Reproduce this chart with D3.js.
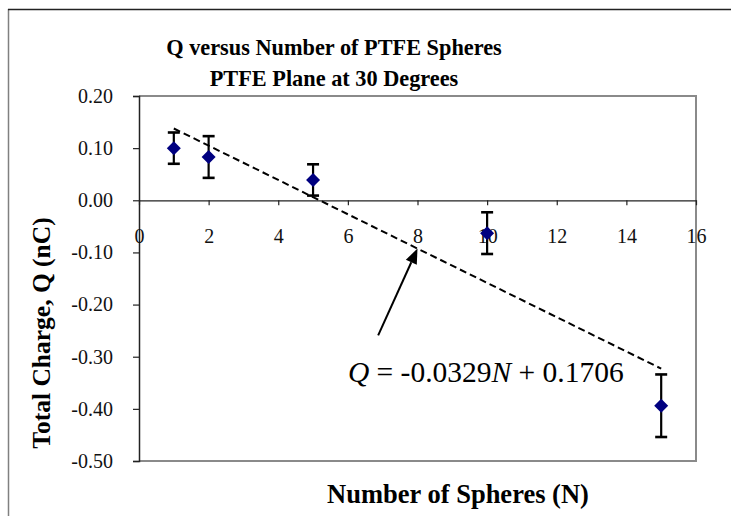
<!DOCTYPE html>
<html>
<head>
<meta charset="utf-8">
<script src="https://cdn.jsdelivr.net/npm/d3@7"></script>
<style>
  html, body { margin: 0; padding: 0; background: #fff; }
  svg { display: block; font-family: "Liberation Serif", "DejaVu Serif", serif; }
</style>
</head>
<body>
<svg id="chart" width="731" height="516"></svg>
<script>

// Data
const sphereCounts = [1, 2, 5, 10, 15];
const chargeValues = [0.100, 0.083, 0.039, -0.063, -0.394];
const chargeErrors = [0.030, 0.040, 0.030, 0.040, 0.060];

// Linear fit Q = slope*N + intercept, drawn over the data range
const fitSlope = -0.0329;
const fitIntercept = 0.1706;
const fitRange = [1, 15];

const xTicks = [0, 2, 4, 6, 8, 10, 12, 14, 16];
const yTicks = [0.2, 0.1, 0.0, -0.1, -0.2, -0.3, -0.4, -0.5];

const titleLines = ["Q versus Number of PTFE Spheres", "PTFE Plane at 30 Degrees"];
const xTitle = "Number of Spheres (N)";
const yTitle = "Total Charge, Q (nC)";

// Arrow annotation: tail in data units, tip on the fit line at N = 8
const arrowTail = [6.87, -0.259];
const arrowTipN = 8;
const equationAnchor = [6.0, -0.349];

// Layout
const plot = {left: 139, right: 696, top: 96, bottom: 461};
const serif = "'Liberation Serif', 'DejaVu Serif', serif";

const svg = d3.select("#chart");

const x = d3.scaleLinear().domain([0, 16]).range([plot.left, plot.right]);
const y = d3.scaleLinear().domain([-0.5, 0.2]).range([plot.bottom, plot.top]);
const fit = n => fitSlope * n + fitIntercept;
const fmt = d => d3.format(".2f")(d).replace("\u2212", "-");

// Outer chart frame (only left and top edges are visible)
svg.append("line")
    .attr("x1", 8.5).attr("x2", 8.5).attr("y1", 9).attr("y2", 516)
    .attr("stroke", "#808080").attr("stroke-width", 1.5);
svg.append("line")
    .attr("x1", 8).attr("x2", 731).attr("y1", 9.5).attr("y2", 9.5)
    .attr("stroke", "#222").attr("stroke-width", 1.5);

// Plot area border (top, right, bottom in grey)
svg.append("path")
    .attr("d", `M${plot.left},${plot.top}H${plot.right}V${plot.bottom}H${plot.left}`)
    .attr("fill", "none")
    .attr("stroke", "#8a8a8a")
    .attr("stroke-width", 2);

// Y axis
const yAxis = svg.append("g")
    .attr("transform", `translate(${plot.left},0)`)
    .call(d3.axisLeft(y).tickValues(yTicks).tickFormat(fmt).tickSize(6).tickPadding(20));
yAxis.attr("font-family", serif);
yAxis.select(".domain").attr("stroke", "#222").attr("stroke-width", 1.5);
yAxis.selectAll(".tick line").attr("stroke", "#222").attr("stroke-width", 1.2);
yAxis.selectAll(".tick text")
    .attr("font-size", 20)
    .attr("fill", "#111");

// X axis along Q = 0
const xAxis = svg.append("g")
    .attr("transform", `translate(0,${y(0)})`)
    .call(d3.axisBottom(x).tickValues(xTicks).tickSize(5).tickSizeOuter(0).tickPadding(24));
xAxis.attr("font-family", serif);
xAxis.select(".domain").attr("stroke", "#222").attr("stroke-width", 1.2);
xAxis.selectAll(".tick line").attr("stroke", "#222").attr("stroke-width", 1.2);
xAxis.selectAll(".tick text")
    .attr("font-size", 20)
    .attr("fill", "#111");

// Trend line
svg.append("path")
    .datum(fitRange)
    .attr("fill", "none")
    .attr("stroke", "#000")
    .attr("stroke-width", 2)
    .attr("stroke-dasharray", "7,4")
    .attr("d", d3.line().x(n => x(n)).y(n => y(fit(n))));

// Error bars
const points = sphereCounts.map((n, i) => ({n: n, q: chargeValues[i], e: chargeErrors[i]}));
const bars = svg.append("g").attr("stroke", "#000").attr("stroke-width", 2.2);
bars.selectAll(".stem").data(points).join("line")
    .attr("x1", d => x(d.n)).attr("x2", d => x(d.n))
    .attr("y1", d => y(d.q + d.e)).attr("y2", d => y(d.q - d.e));
bars.selectAll(".capTop").data(points).join("line")
    .attr("x1", d => x(d.n) - 6).attr("x2", d => x(d.n) + 6)
    .attr("y1", d => y(d.q + d.e)).attr("y2", d => y(d.q + d.e))
    .attr("stroke-width", 2.6);
bars.selectAll(".capBottom").data(points).join("line")
    .attr("x1", d => x(d.n) - 6).attr("x2", d => x(d.n) + 6)
    .attr("y1", d => y(d.q - d.e)).attr("y2", d => y(d.q - d.e))
    .attr("stroke-width", 2.6);

// Diamond markers
svg.append("g").selectAll("path").data(points).join("path")
    .attr("transform", d => `translate(${x(d.n)},${y(d.q)})`)
    .attr("d", "M0,-7L7,0L0,7L-7,0Z")
    .attr("fill", "#000080");

// Arrow pointing to the fit line
const tipX = x(arrowTipN), tipY = y(fit(arrowTipN));
const tailX = x(arrowTail[0]), tailY = y(arrowTail[1]);
const ang = Math.atan2(tipY - tailY, tipX - tailX);
const headLen = 15, headHalf = 6;
const baseX = tipX - headLen * Math.cos(ang), baseY = tipY - headLen * Math.sin(ang);
svg.append("line")
    .attr("x1", tailX).attr("y1", tailY).attr("x2", baseX).attr("y2", baseY)
    .attr("stroke", "#000").attr("stroke-width", 2);
svg.append("path")
    .attr("d", `M${tipX},${tipY}L${baseX + headHalf * Math.sin(ang)},${baseY - headHalf * Math.cos(ang)}L${baseX - headHalf * Math.sin(ang)},${baseY + headHalf * Math.cos(ang)}Z`)
    .attr("fill", "#000");

// Fit equation
const eq = svg.append("text")
    .attr("x", x(equationAnchor[0]))
    .attr("y", y(equationAnchor[1]))
    .attr("font-size", 29.5)
    .attr("fill", "#000");
eq.append("tspan").attr("font-style", "italic").text("Q");
eq.append("tspan").text(` = ${fitSlope}`);
eq.append("tspan").attr("font-style", "italic").text("N");
eq.append("tspan").text(` + ${fitIntercept}`);

// Titles
svg.append("g").selectAll("text").data(titleLines).join("text")
    .attr("x", 334)
    .attr("y", (d, i) => 55 + i * 31)
    .attr("text-anchor", "middle")
    .attr("font-weight", "bold")
    .attr("font-size", 22.3)
    .text(d => d);

svg.append("text")
    .attr("x", 458).attr("y", 503)
    .attr("text-anchor", "middle")
    .attr("font-weight", "bold")
    .attr("font-size", 26.5)
    .text(xTitle);

svg.append("text")
    .attr("transform", "translate(50,333) rotate(-90)")
    .attr("text-anchor", "middle")
    .attr("font-weight", "bold")
    .attr("font-size", 25.5)
    .text(yTitle);
</script>
</body>
</html>
